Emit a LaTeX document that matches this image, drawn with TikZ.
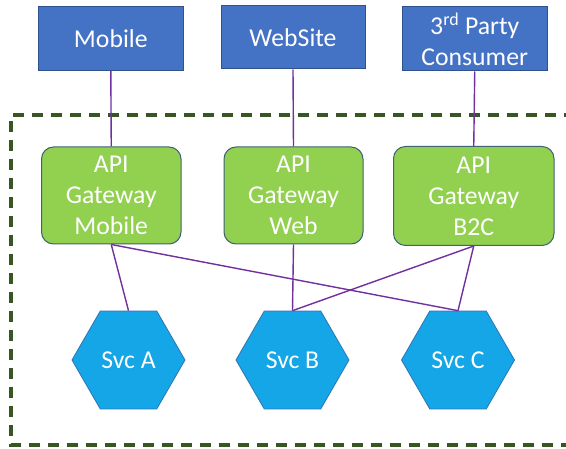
\documentclass[tikz,border=0pt]{standalone}
\usepackage{fontspec}
\setmainfont{Carlito}
\usetikzlibrary{shapes.geometric}
\definecolor{topblue}{HTML}{4472C4}
\definecolor{topedge}{HTML}{2F528F}
\definecolor{gwgreen}{HTML}{92D050}
\definecolor{gwedge}{HTML}{3E6272}
\definecolor{hexblue}{HTML}{14A6E6}
\definecolor{hexedge}{HTML}{2E75B6}
\definecolor{linkpurple}{HTML}{7030A0}
\definecolor{zonegreen}{HTML}{375623}
\tikzset{
  x=1pt, y=1pt,
  lbl/.style={text=white, font=\fontsize{25.7}{31}\selectfont, align=center, inner sep=0pt},
  client/.style={lbl, rectangle, draw=topedge, line width=1pt, fill=topblue},
  gateway/.style={lbl, rectangle, rounded corners=12pt, draw=gwedge, line width=1pt, fill=gwgreen},
  svc/.style={lbl, regular polygon, regular polygon sides=6, minimum size=113pt, draw=hexedge, line width=0.8pt, fill=hexblue},
  link/.style={draw=linkpurple, line width=1.4pt},
  zone/.style={draw=zonegreen, line width=3.2pt, dash pattern=on 11pt off 8pt}
}
\begin{document}
\begin{tikzpicture}
\useasboundingbox (0,0) rectangle (566,-449);
\fill[white] (0,0) rectangle (566,-449);
\draw[zone] (575,-115) -- (11,-115) -- (11,-445) -- (575,-445);

\node[client, minimum width=144.4pt, minimum height=63.7pt] (mob) at (110.8,-38.8) {Mobile};
\node[client, minimum width=144pt, minimum height=63pt] (web) at (293,-37.5) {WebSite};
\node[client, minimum width=144.5pt, minimum height=64pt] (tpc) at (474.75,-39) {3\textsuperscript{rd} Party\\Consumer};

\node[gateway, minimum width=139.5pt, minimum height=97pt] (gm) at (111.25,-195.5) {API\\Gateway\\Mobile};
\node[gateway, minimum width=139pt, minimum height=97pt] (gw) at (293.5,-195.5) {API\\Gateway\\Web};
\node[gateway, minimum width=160.5pt, minimum height=99pt] (gb) at (473.75,-196) {API\\Gateway\\B2C};

\node[svc] (sa) at (128.5,-360) {Svc A};
\node[svc] (sb) at (292.5,-360) {Svc B};
\node[svc] (sc) at (458,-360) {Svc C};

\draw[link] (mob.south) -- (gm.north);
\draw[link] (web.south) -- (gw.north);
\draw[link] (tpc.south) -- (gb.north);
\draw[link] (gm.south) -- (sa.north);
\draw[link] (gm.south) -- (sc.north);
\draw[link] (gw.south) -- (sb.north);
\draw[link] (gb.south) -- (sb.north);
\draw[link] (gb.south) -- (sc.north);
\end{tikzpicture}
\end{document}
